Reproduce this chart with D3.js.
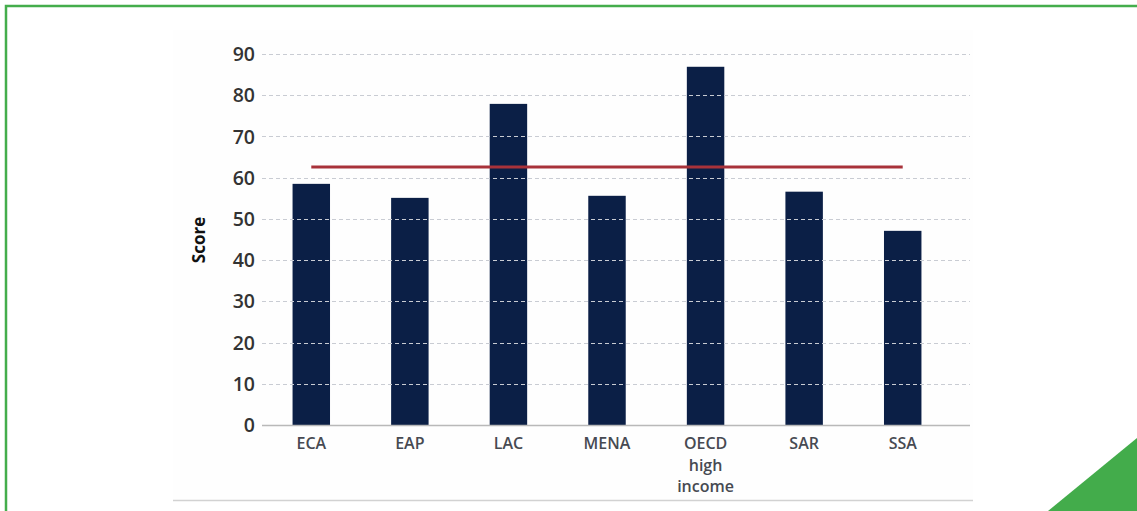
<!DOCTYPE html>
<html>
<head>
<meta charset="utf-8">
<script src="https://cdn.jsdelivr.net/npm/d3@7"></script>
<style>
  html, body { margin: 0; padding: 0; background: #ffffff; }
  svg { display: block; }
</style>
</head>
<body>
<svg id="chart" width="1137" height="511"></svg>
<script>
// Regional scores with the overall benchmark line
const regions = ["ECA", "EAP", "LAC", "MENA", "OECD high income", "SAR", "SSA"];
const regionLines = [["ECA"], ["EAP"], ["LAC"], ["MENA"], ["OECD", "high", "income"], ["SAR"], ["SSA"]];
const scores = [58.5, 55.1, 77.9, 55.6, 86.9, 56.6, 47.1];
const benchmark = [62.6];
const yTicks = [0, 10, 20, 30, 40, 50, 60, 70, 80, 90];

const W = 1137, H = 511;
const svg = d3.select("#chart");

// page frame
svg.append("rect").attr("x", 0).attr("y", 0).attr("width", W).attr("height", H).attr("fill", "#ffffff");
svg.append("path")
  .attr("d", `M6,${H + 5} L6,6 L${W + 5},6`)
  .attr("fill", "none").attr("stroke", "#44ad4c").attr("stroke-width", 2.5);
svg.append("path")
  .attr("d", `M1048,${H} L${W},438 L${W},${H} Z`)
  .attr("fill", "#43ac4b");

// chart panel
svg.append("rect").attr("x", 173).attr("y", 30).attr("width", 800).attr("height", 470).attr("fill", "#fefefe");
svg.append("line").attr("x1", 173).attr("x2", 973).attr("y1", 500.5).attr("y2", 500.5)
  .attr("stroke", "#d2d2d2").attr("stroke-width", 1.5);

const plotLeft = 262, plotRight = 952, xRight = 970;
const y = d3.scaleLinear().domain([0, 90]).range([425, 54]);
const x = d3.scaleBand().domain(regions).range([plotLeft, plotRight]).paddingInner(0.62).paddingOuter(0.31);

const fontFam = "'Open Sans', 'Noto Sans', sans-serif";

// bars
svg.append("g").selectAll("rect").data(scores).join("rect")
  .attr("x", (d, i) => x(regions[i]))
  .attr("y", d => y(d))
  .attr("width", x.bandwidth())
  .attr("height", d => y(0) - y(d))
  .attr("fill", "#0b1f46");

// dashed gridlines
svg.append("g").selectAll("line").data(yTicks.filter(t => t > 0)).join("line")
  .attr("x1", plotLeft).attr("x2", xRight)
  .attr("y1", d => Math.round(y(d)) + 0.5).attr("y2", d => Math.round(y(d)) + 0.5)
  .attr("stroke", "#c9ccd3").attr("stroke-width", 1.1)
  .attr("stroke-dasharray", "4,3");

// baseline
svg.append("line").attr("x1", plotLeft).attr("x2", xRight)
  .attr("y1", y(0) + 0.5).attr("y2", y(0) + 0.5)
  .attr("stroke", "#b9b9b9").attr("stroke-width", 1.5);

// y axis labels
const yAxis = d3.axisLeft(y).tickValues(yTicks).tickSize(0).tickPadding(0);
const gy = svg.append("g").attr("transform", "translate(255,0)").call(yAxis);
gy.select(".domain").remove();
gy.selectAll("text")
  .attr("font-family", fontFam).attr("font-size", 19.5).attr("font-weight", 600)
  .attr("fill", "#333333").attr("dy", "0.34em");

svg.append("text")
  .attr("transform", `translate(205,240) rotate(-90)`)
  .attr("text-anchor", "middle")
  .attr("font-family", fontFam).attr("font-size", 17).attr("font-weight", 700)
  .attr("fill", "#111").text("Score");

// x labels
const xl = svg.append("g").selectAll("text").data(regions).join("text")
  .attr("x", d => x(d) + x.bandwidth() / 2)
  .attr("y", 449)
  .attr("text-anchor", "middle")
  .attr("font-family", fontFam).attr("font-size", 16).attr("font-weight", 600)
  .attr("fill", "#474a52");
xl.each(function (d, i) {
  const t = d3.select(this);
  regionLines[i].forEach((ln, k) => {
    t.append("tspan").attr("x", x(d) + x.bandwidth() / 2).attr("dy", k === 0 ? 0 : 21.5).text(ln);
  });
});

// benchmark line across the bars
svg.append("line")
  .attr("x1", x(regions[0]) + x.bandwidth() / 2)
  .attr("x2", x(regions[regions.length - 1]) + x.bandwidth() / 2)
  .attr("y1", y(benchmark[0])).attr("y2", y(benchmark[0]))
  .attr("stroke", "#a8323a").attr("stroke-width", 3);
</script>
</body>
</html>
